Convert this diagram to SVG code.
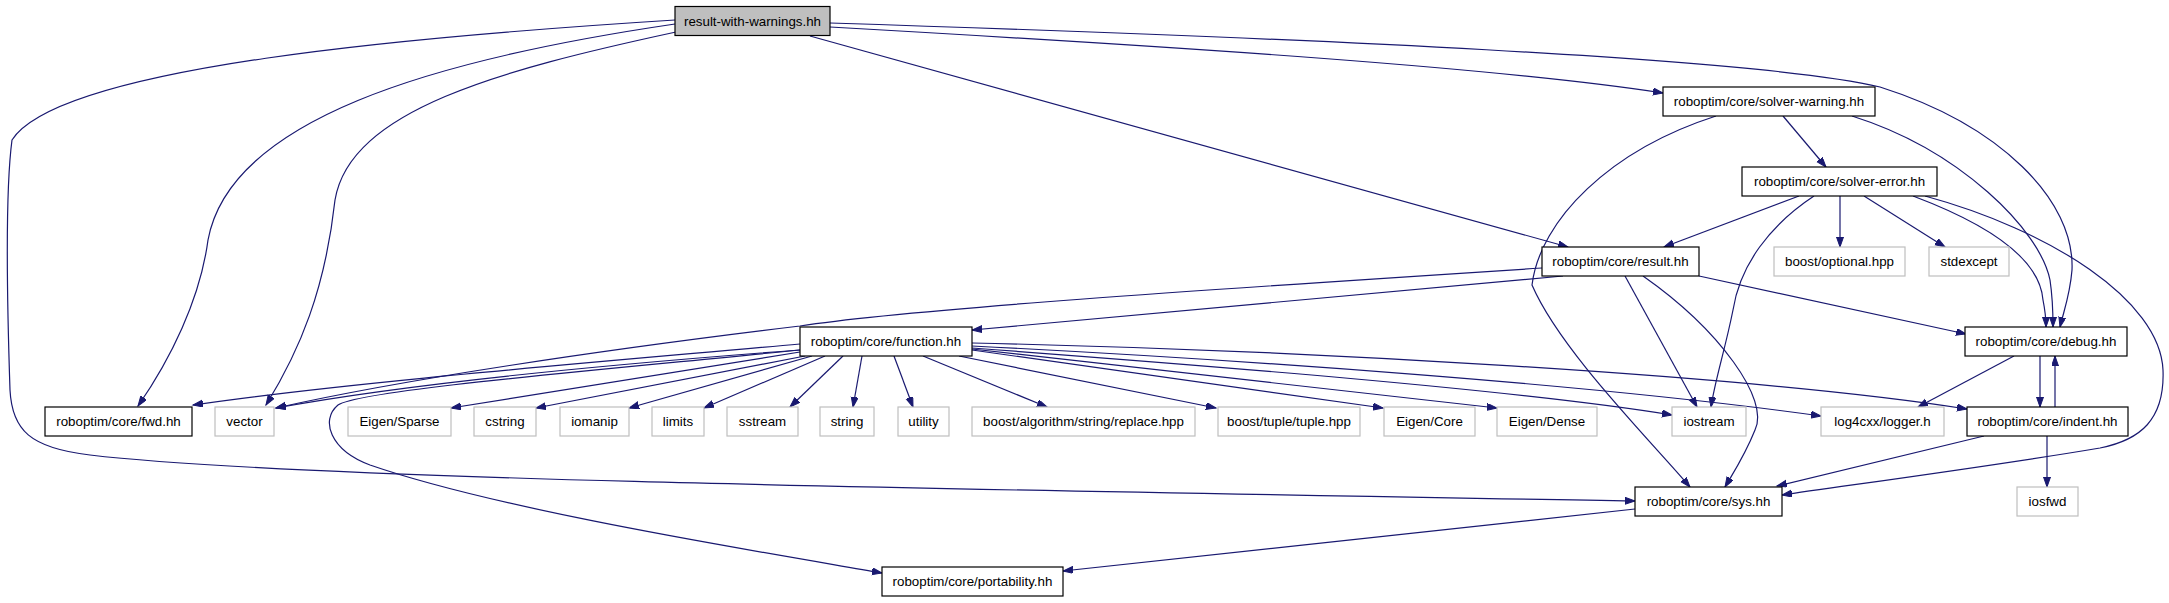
<svg xmlns="http://www.w3.org/2000/svg" width="2169" height="603" viewBox="0 0 2169 603">
<defs>
<style>
.n rect{fill:#fff;stroke:#000;stroke-width:1.2}
.g rect{fill:#fff;stroke:#bfbfbf;stroke-width:1.2}
.r rect{fill:#bfbfbf;stroke:#000;stroke-width:1.2}
text{font-family:"Liberation Sans",Arial,sans-serif;font-size:13.33px;fill:#000;text-anchor:middle}
#edges path{fill:none;stroke:#191970;stroke-width:1.2;marker-end:url(#a)}
</style>
<marker id="a" markerWidth="12" markerHeight="9" refX="10" refY="3.5" orient="auto" markerUnits="userSpaceOnUse"><path d="M0,0L10,3.5L0,7z" fill="#191970" stroke="#191970" stroke-width="1"/></marker>
</defs>
<rect width="2169" height="603" fill="#fff"/>
<g id="edges">
<path d="M675,24 C430,60 230,120 208,240 C200,300 170,360 138,406"/>
<path d="M676,32 C500,70 350,110 335,200 C325,290 300,350 266,405"/>
<path d="M675,20 C420,36 60,66 12,140 C4,200 8,330 10,390 C12,430 30,448 90,455 C300,480 1000,490 1635,501"/>
<path d="M810,36 L1568,247"/>
<path d="M830,27 C1200,48 1500,68 1663,93"/>
<path d="M830,23 C1300,38 1760,58 1880,87 C2000,125 2075,200 2072,270 C2070,295 2064,310 2060,327"/>
<path d="M1783,116 L1826,167"/>
<path d="M1716,116 C1610,150 1540,220 1532,285 C1560,350 1650,440 1690,487"/>
<path d="M1852,116 C1960,150 2040,230 2050,280 C2053,300 2053,315 2053,327"/>
<path d="M1799,196 L1664,247"/>
<path d="M1840,196 L1840,247"/>
<path d="M1864,196 L1945,247"/>
<path d="M1814,196 C1770,225 1740,265 1733,310 C1725,350 1715,380 1711,407"/>
<path d="M1913,196 C1990,225 2040,260 2043,300 C2045,310 2046,318 2046,327"/>
<path d="M1925,196 C2050,230 2160,300 2163,370 C2165,420 2140,440 2100,448 C2000,465 1850,485 1782,495"/>
<path d="M1542,268 C1200,290 900,310 800,326 C600,350 400,380 276,408"/>
<path d="M1563,276 L972,330"/>
<path d="M1625,276 L1697,407"/>
<path d="M1643,276 C1720,330 1770,400 1755,430 C1745,455 1735,470 1725,487"/>
<path d="M1699,276 L1966,334"/>
<path d="M800,344 C600,362 350,382 193,405"/>
<path d="M800,350 C600,365 400,385 276,408"/>
<path d="M800,352 L451,408"/>
<path d="M805,356 L536,408"/>
<path d="M812,356 L629,408"/>
<path d="M825,356 L704,408"/>
<path d="M843,356 L790,407"/>
<path d="M862,356 L853,407"/>
<path d="M894,356 L913,407"/>
<path d="M923,356 L1047,407"/>
<path d="M959,356 L1216,408"/>
<path d="M972,350 L1383,408"/>
<path d="M972,349 L1497,408"/>
<path d="M972,348 C1200,365 1520,390 1672,415"/>
<path d="M972,346 C1250,360 1600,385 1821,416"/>
<path d="M972,343 C1300,350 1750,375 1967,409"/>
<path d="M800,350 C600,370 360,390 338,405 C320,420 330,450 370,465 C500,510 750,550 882,573"/>
<path d="M2014,356 L1918,407"/>
<path d="M2040,356 L2040,407"/>
<path d="M2055,407 L2055,356"/>
<path d="M1984,436 L1777,486"/>
<path d="M2047,436 L2047,487"/>
<path d="M1635,509 L1063,571"/>
</g>
<g id="n_rww" class="r"><rect x="675" y="6.5" width="155" height="29"/><text x="752.5" y="25.5">result-with-warnings.hh</text></g>
<g id="n_sw" class="n"><rect x="1663" y="87" width="212" height="29"/><text x="1769" y="106">roboptim/core/solver-warning.hh</text></g>
<g id="n_se" class="n"><rect x="1742" y="167" width="195" height="29"/><text x="1839.5" y="186">roboptim/core/solver-error.hh</text></g>
<g id="n_result" class="n"><rect x="1542" y="247" width="157" height="29"/><text x="1620.5" y="266">roboptim/core/result.hh</text></g>
<g id="n_optional" class="g"><rect x="1774" y="247" width="131" height="29"/><text x="1839.5" y="266">boost/optional.hpp</text></g>
<g id="n_stdexcept" class="g"><rect x="1929" y="247" width="80" height="29"/><text x="1969" y="266">stdexcept</text></g>
<g id="n_function" class="n"><rect x="800" y="327" width="172" height="29"/><text x="886" y="346">roboptim/core/function.hh</text></g>
<g id="n_debug" class="n"><rect x="1965" y="327" width="162" height="29"/><text x="2046" y="346">roboptim/core/debug.hh</text></g>
<g id="n_fwd" class="n"><rect x="45" y="407" width="147" height="29"/><text x="118.5" y="426">roboptim/core/fwd.hh</text></g>
<g id="n_vector" class="g"><rect x="215" y="407" width="59" height="29"/><text x="244.5" y="426">vector</text></g>
<g id="n_sparse" class="g"><rect x="348" y="407" width="103" height="29"/><text x="399.5" y="426">Eigen/Sparse</text></g>
<g id="n_cstring" class="g"><rect x="474" y="407" width="62" height="29"/><text x="505" y="426">cstring</text></g>
<g id="n_iomanip" class="g"><rect x="560" y="407" width="69" height="29"/><text x="594.5" y="426">iomanip</text></g>
<g id="n_limits" class="g"><rect x="652" y="407" width="52" height="29"/><text x="678" y="426">limits</text></g>
<g id="n_sstream" class="g"><rect x="727" y="407" width="71" height="29"/><text x="762.5" y="426">sstream</text></g>
<g id="n_string" class="g"><rect x="820" y="407" width="54" height="29"/><text x="847" y="426">string</text></g>
<g id="n_utility" class="g"><rect x="898" y="407" width="51" height="29"/><text x="923.5" y="426">utility</text></g>
<g id="n_replace" class="g"><rect x="972" y="407" width="223" height="29"/><text x="1083.5" y="426">boost/algorithm/string/replace.hpp</text></g>
<g id="n_tuple" class="g"><rect x="1218" y="407" width="142" height="29"/><text x="1289" y="426">boost/tuple/tuple.hpp</text></g>
<g id="n_core" class="g"><rect x="1384" y="407" width="91" height="29"/><text x="1429.5" y="426">Eigen/Core</text></g>
<g id="n_dense" class="g"><rect x="1497" y="407" width="100" height="29"/><text x="1547" y="426">Eigen/Dense</text></g>
<g id="n_iostream" class="g"><rect x="1672" y="407" width="74" height="29"/><text x="1709" y="426">iostream</text></g>
<g id="n_logger" class="g"><rect x="1821" y="407" width="123" height="29"/><text x="1882.5" y="426">log4cxx/logger.h</text></g>
<g id="n_indent" class="n"><rect x="1967" y="407" width="161" height="29"/><text x="2047.5" y="426">roboptim/core/indent.hh</text></g>
<g id="n_sys" class="n"><rect x="1635" y="487" width="147" height="29"/><text x="1708.5" y="506">roboptim/core/sys.hh</text></g>
<g id="n_iosfwd" class="g"><rect x="2017" y="487" width="61" height="29"/><text x="2047.5" y="506">iosfwd</text></g>
<g id="n_portability" class="n"><rect x="882" y="567" width="181" height="29"/><text x="972.5" y="586">roboptim/core/portability.hh</text></g>
</svg>
